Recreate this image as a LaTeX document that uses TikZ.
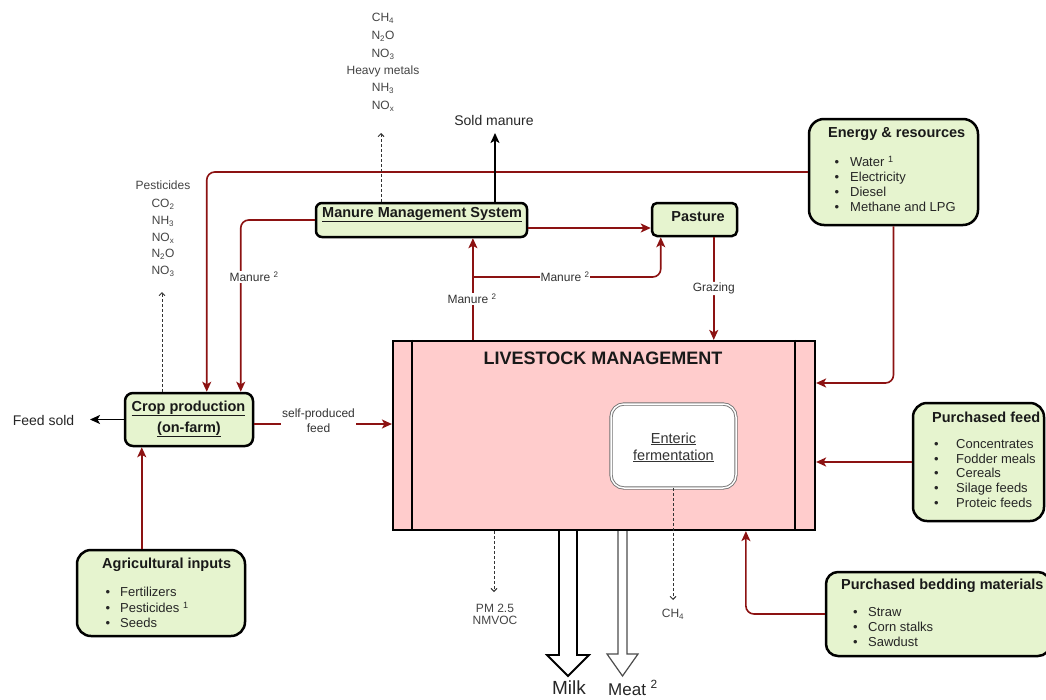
\documentclass[tikz,border=0pt]{standalone}
\usepackage{fontspec}
\setmainfont{Liberation Sans}
\usetikzlibrary{arrows.meta}
\definecolor{boxgreen}{HTML}{E6F4CF}
\definecolor{pinkfill}{HTML}{FFCCCC}
\definecolor{darkred}{RGB}{140,18,18}
\definecolor{txtgray}{HTML}{333333}
\definecolor{emgray}{HTML}{444444}
\newcommand{\setfs}[1]{\fontsize{#1}{#1}\selectfont}
\tikzset{
  gbox/.style={draw=black, line width=2.5pt, fill=boxgreen, inner sep=0pt},
  flow/.style={draw=darkred, line width=1.6pt, rounded corners=8pt,
    -{Stealth[length=10pt,width=9pt,inset=2.5pt]}},
  blackflow/.style={draw=black, line width=1.6pt,
    -{Stealth[length=10pt,width=9pt,inset=2.5pt]}},
  emis/.style={draw=black!80, line width=0.9pt, dash pattern=on 3pt off 2pt,
    -{Straight Barb[length=3pt,width=6pt]}},
  lbl/.style={font=\setfs{12}, text=txtgray, inner sep=1pt},
  lblw/.style={lbl, fill=white},
  emt/.style={font=\setfs{12}, text=emgray, inner sep=0pt, anchor=base},
  ttl/.style={font=\bfseries\setfs{14.5}, text=black!90, inner sep=0pt, anchor=base west},
  itm/.style={font=\setfs{13}, text=black!85, inner sep=0pt, anchor=base west},
  enteric/.style={draw=black!55, double=white, double distance=1.5pt, line width=0.9pt,
    fill=white, rounded corners=13pt, inner sep=0pt}
}
\begin{document}
\begin{tikzpicture}[x=1pt,y=-1pt]
\useasboundingbox (0,0) rectangle (1046,699);
\fill[white] (0,0) rectangle (1046,699);

% ---------- boxes ----------
\node[gbox, rounded corners=6pt, minimum width=211pt, minimum height=34pt] (mms) at (421.5,220) {};
\node[gbox, rounded corners=5pt, minimum width=85pt, minimum height=33pt] (pasture) at (694.5,219.5) {};
\node[gbox, rounded corners=15pt, minimum width=169pt, minimum height=106pt] (energy) at (893.5,172) {};
\node[draw=black, line width=2.2pt, fill=pinkfill, minimum width=422pt, minimum height=189pt, inner sep=0pt] (live) at (604,435.5) {};
\draw[line width=2pt] ([xshift=20pt]live.north west) -- ([xshift=20pt]live.south west);
\draw[line width=2pt] ([xshift=-21pt]live.north east) -- ([xshift=-21pt]live.south east);
\node[enteric, minimum width=125pt, minimum height=84pt] (ent) at (673.5,446) {};
\node[gbox, rounded corners=14pt, minimum width=131pt, minimum height=118pt] (pfeed) at (978.5,462) {};
\node[gbox, rounded corners=12pt, minimum width=224pt, minimum height=84pt] (bed) at (938,614) {};
\node[gbox, rounded corners=8pt, minimum width=128pt, minimum height=53pt] (crop) at (189,419.5) {};
\node[gbox, rounded corners=14pt, minimum width=168pt, minimum height=86pt] (agri) at (161,593) {};

% ---------- box texts ----------
\node[ttl] (mmsT) at (322,217) {\underline{Manure Management System}};
\node[ttl, anchor=base] (pasT) at (698,221) {Pasture};
\node[ttl] (enT) at (828,137) {Energy \& resources};
\foreach \t/\y [count=\i] in {Water \textsuperscript{1}/166.5, Electricity/181.5, Diesel/196.5, Methane and LPG/211.5}
  \node[itm] (en\i) at (834.5,\y) {\makebox[15.5pt][l]{\textbullet}\t};
\node[ttl] (pfT) at (932,422) {Purchased feed};
\foreach \t/\y [count=\i] in {Concentrates/448.5, Fodder meals/463.2, Cereals/477.9, Silage feeds/492.6, Proteic feeds/507.3}
  \node[itm] (pf\i) at (934,\y) {\makebox[22pt][l]{\textbullet}\t};
\node[ttl] (bedT) at (841,589) {Purchased bedding materials};
\foreach \t/\y [count=\i] in {Straw/616.5, Corn stalks/631.5, Sawdust/646.5}
  \node[itm] (bd\i) at (853,\y) {\makebox[15pt][l]{\textbullet}\t};
\node[ttl] (agT) at (102,568) {Agricultural inputs};
\foreach \t/\y [count=\i] in {Fertilizers/596.7, Pesticides \textsuperscript{1}/612.7, Seeds/627.7}
  \node[itm] (ag\i) at (105.5,\y) {\makebox[14.5pt][l]{\textbullet}\t};
\node[ttl, anchor=base] (cropT1) at (188.5,411) {\underline{Crop production}};
\node[ttl, anchor=base] (cropT2) at (189,432) {\underline{(on-farm)}};
\node[font=\bfseries\setfs{18}, text=black!90, inner sep=0pt, anchor=base] (liveT) at (603,364.5) {LIVESTOCK MANAGEMENT};
\node[font=\setfs{14.5}, text=txtgray, inner sep=0pt, anchor=base] (entT1) at (673.5,443) {\underline{Enteric}};
\node[font=\setfs{14.5}, text=txtgray, inner sep=0pt, anchor=base] (entT2) at (673.5,460) {\underline{fermentation}};

% ---------- emission lists ----------
\foreach \t/\y [count=\i] in {CH\textsubscript{4}/21.5, N\textsubscript{2}O/39.5, NO\textsubscript{3}/57.5, Heavy metals/74.5, NH\textsubscript{3}/91.5, NO\textsubscript{x}/109.5}
  \node[emt] (up\i) at (383,\y) {\t};
\foreach \t/\y [count=\i] in {Pesticides/189.3, CO\textsubscript{2}/207.3, NH\textsubscript{3}/224.3, NO\textsubscript{x}/241.3, N\textsubscript{2}O/257.3, NO\textsubscript{3}/274.3}
  \node[emt] (ps\i) at (163,\y) {\t};
\node[emt] (pm1) at (495,612) {PM 2.5};
\node[emt] (pm2) at (495,624.5) {NMVOC};
\node[emt] (ch4) at (673,617.5) {CH\textsubscript{4}};
\node[font=\setfs{14}, text=black!85, inner sep=0pt, anchor=base] (sold) at (494,125) {Sold manure};
\node[font=\setfs{14}, text=black!85, inner sep=0pt, anchor=base] (fsold) at (43.5,425) {Feed sold};

% ---------- free ends ----------
\coordinate (br) at (474,277);
\coordinate (mmsTip) at (381,133);
\coordinate (soldTip) at (495,133);
\coordinate (pestTip) at (162,292);
\coordinate (pmTip) at (494,592);
\coordinate (ch4Tip) at (673,600);
\coordinate (fsTip) at (90,419.5);

% ---------- red flows ----------
\draw[flow] (energy.west) -| ([xshift=83pt]crop.north west);
\draw[flow] (mms.west) -| ([xshift=117pt]crop.north west);
\node[lblw] (m1) at (254,277) {Manure \textsuperscript{2}};
\draw[flow] ([yshift=-8pt]mms.east) -- ([yshift=-8pt]mms.east -| pasture.west);
\draw[flow] ([xshift=81pt]live.north west) -- ([xshift=81pt]live.north west |- mms.south);
\draw[flow] (br) -| ([xshift=10pt]pasture.south west);
\node[lblw] (m2) at (472,299) {Manure \textsuperscript{2}};
\node[lblw] (m3) at (565,277) {Manure \textsuperscript{2}};
\draw[flow] ([xshift=63pt]pasture.south west) -- ([xshift=63pt]pasture.south west |- live.north)
  node[lblw, midway] (graz) {Grazing};
\draw[flow] (energy.south) |- ([yshift=52.5pt]live.east);
\draw[flow] (pfeed.west) -- ([yshift=-26.5pt]live.east);
\draw[flow] (bed.west) -| ([xshift=354pt]live.south west);
\draw[flow] ([xshift=66pt]agri.north west) -- ([xshift=66pt]agri.north west |- crop.south);
\draw[flow] ([yshift=-4.5pt]crop.east) -- ([yshift=-4.5pt]crop.east -| live.west);
\node[lblw, align=center, font=\fontsize{12}{15}\selectfont] (spf) at (318.5,420.5) {self-produced\\feed};

% ---------- black flows ----------
\draw[blackflow] (crop.west) -- (fsTip);
\draw[blackflow] (soldTip |- mms.north) -- (soldTip);

% ---------- emissions ----------
\draw[emis] (mmsTip |- mms.north) -- (mmsTip);
\draw[emis] (pestTip |- crop.north) -- (pestTip);
\draw[emis] (pmTip |- live.south) -- (pmTip);
\draw[emis] (ch4Tip |- ent.south) -- (ch4Tip);

% ---------- products ----------
\draw[line width=1.8pt, fill=white, line join=miter]
  (559,531) -- (559,655) -- (547,655) -- (568,676) -- (589,655) -- (577,655) -- (577,531);
\draw[line width=1.2pt, draw=black!70, fill=white, line join=miter]
  (618,531) -- (618,654) -- (607,654) -- (622.5,676) -- (638,654) -- (627,654) -- (627,531);
\node[font=\setfs{19}, text=black!85, inner sep=0pt, anchor=base] (milk) at (569,694) {Milk};
\node[font=\setfs{17}, text=black!85, inner sep=0pt, anchor=base] (meat) at (633,695) {Meat \textsuperscript{2}};
\end{tikzpicture}
\end{document}
